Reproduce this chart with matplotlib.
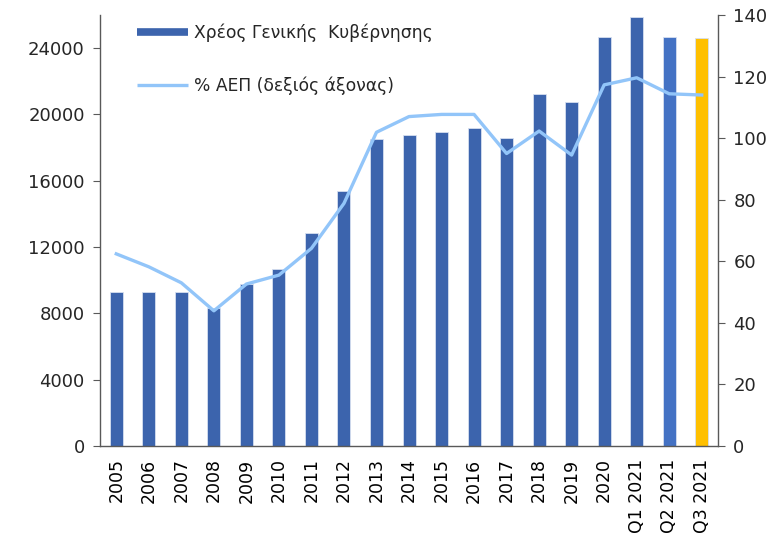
import matplotlib
matplotlib.use("Agg")
import matplotlib.pyplot as plt
from matplotlib.lines import Line2D

plt.rcParams['font.family'] = ['DejaVu Sans']

categories = ["2005", "2006", "2007", "2008", "2009", "2010", "2011", "2012", "2013",
              "2014", "2015", "2016", "2017", "2018", "2019", "2020",
              "Q1 2021", "Q2 2021", "Q3 2021"]
debt = [9270, 9270, 9270, 8310, 9770, 10680, 12830, 15380, 18500,
        18760, 18960, 19200, 18560, 21220, 20770, 24650,
        25860, 24650, 24590]
gdp_pct = [62.4, 58.2, 53.0, 43.9, 52.6, 55.5, 64.2, 78.8, 101.9,
           107.0, 107.7, 107.7, 95.0, 102.3, 94.5, 117.3,
           119.6, 114.4, 114.0]

label_debt = "Χρέος Γενικής  Κυβέρνησης"
label_pct = "% ΑΕΠ (δεξιός άξονας)"

left_ticks = [0, 4000, 8000, 12000, 16000, 20000, 24000]
right_ticks = [0, 20, 40, 60, 80, 100, 120, 140]

bar_main = "#3C64AD"
bar_q2 = "#4472C4"
bar_q3 = "#FFC000"
line_col = "#92C5F9"
spine_col = "#595959"

colors = [bar_main] * (len(categories) - 2) + [bar_q2, bar_q3]

fig = plt.figure(figsize=(7.79, 5.35), dpi=100)
ax = fig.add_axes([0.1284, 0.1664, 0.7933, 0.8056])
x = list(range(len(categories)))
ax.bar(x, debt, width=0.40, color=colors, edgecolor="#D6DFF0", linewidth=0.6, zorder=2)
ax.set_xlim(-0.5, len(categories) - 0.5)
ax.set_ylim(0, 26000)
ax.set_yticks(left_ticks)
ax.set_yticklabels([str(t) for t in left_ticks], fontsize=13, color="#262626")
ax.set_xticks(x)
ax.set_xticklabels(categories, rotation=90, fontsize=12.5, color="#000000")
ax.tick_params(axis='x', length=0, pad=9)
ax.tick_params(axis='y', direction='out', length=5, color=spine_col, pad=6)

ax2 = ax.twinx()
ax2.plot(x, gdp_pct, color=line_col, linewidth=2.4, zorder=3)
ax2.set_ylim(0, 140)
ax2.set_yticks(right_ticks)
ax2.set_yticklabels([str(t) for t in right_ticks], fontsize=13, color="#262626")
ax2.tick_params(axis='y', direction='out', length=5, color=spine_col, pad=6)

for a in (ax, ax2):
    a.spines['top'].set_visible(False)
    for s in ('left', 'right', 'bottom'):
        a.spines[s].set_color(spine_col)
        a.spines[s].set_linewidth(1.0)
ax.spines['right'].set_visible(False)
ax2.spines['left'].set_visible(False)
ax2.spines['bottom'].set_visible(False)

handles = [Line2D([0], [0], color=bar_main, linewidth=5.5, solid_capstyle='butt'),
           Line2D([0], [0], color=line_col, linewidth=2.4, solid_capstyle='butt')]
leg = ax2.legend(handles, [label_debt, label_pct], loc='upper left',
                 bbox_to_anchor=(0.035, 1.015), frameon=False, fontsize=12.3,
                 handlelength=3.0, handletextpad=0.35, labelspacing=2.0)
for t in leg.get_texts():
    t.set_color("#262626")

fig.savefig("out.png", dpi=100)
